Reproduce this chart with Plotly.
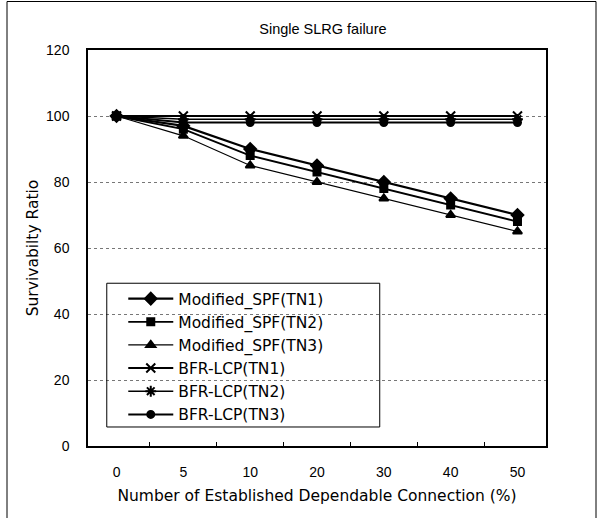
import plotly.graph_objects as go

# Percentage of established dependable connections (category axis)
connections = ["0", "5", "10", "20", "30", "40", "50"]

# Survivability ratio (%) per algorithm / topology
spf_tn1 = [100, 97, 90, 85, 80, 75, 70]
spf_tn2 = [100, 96, 88, 83, 78, 73, 68]
spf_tn3 = [100, 94, 85, 80, 75, 70, 65]
bfr_tn1 = [100, 100, 100, 100, 100, 100, 100]
bfr_tn2 = [100, 99, 99, 99, 99, 99, 99]
bfr_tn3 = [100, 98, 98, 98, 98, 98, 98]

y_ticks = [0, 20, 40, 60, 80, 100, 120]

series = [
    ("Modified_SPF(TN1)", spf_tn1, "diamond", 9, 2.2),
    ("Modified_SPF(TN2)", spf_tn2, "square", 7, 1.8),
    ("Modified_SPF(TN3)", spf_tn3, "triangle-up", 8, 1.2),
    ("BFR-LCP(TN1)", bfr_tn1, "x-thin-open", 9, 2.0),
    ("BFR-LCP(TN2)", bfr_tn2, "asterisk-open", 9, 1.6),
    ("BFR-LCP(TN3)", bfr_tn3, "circle", 7, 2.0),
]

fig = go.Figure()
for i, (name, vals, sym, size, lw) in enumerate(series):
    fig.add_trace(go.Scatter(
        x=connections, y=vals, name=name, mode="lines+markers",
        legendgroup=f"g{i}",
        line=dict(color="black", width=lw),
        marker=dict(symbol=sym, size=size, color="black",
                    line=dict(color="black", width=2)),
    ))

font = "Liberation Sans, Arial, sans-serif"
wide = "DejaVu Sans, Verdana, sans-serif"

fig.update_layout(
    width=598, height=518,
    margin=dict(l=88, r=52, t=50, b=72),
    paper_bgcolor="white", plot_bgcolor="white",
    font=dict(family=font, size=14, color="black"),
    title=dict(text="Single SLRG failure", x=0.54, xanchor="center",
               y=0.945, yanchor="middle", font=dict(size=14.5)),
    showlegend=True,
    legend=dict(x=0.077, y=0.414, xanchor="left", yanchor="top",
                bgcolor="rgba(0,0,0,0)", borderwidth=0,
                font=dict(family=wide, size=15.5), tracegroupgap=0, itemwidth=45),
    xaxis=dict(
        type="category", categoryorder="array", categoryarray=connections,
        tickson="boundaries", ticks="inside", ticklen=4, tickcolor="black",
        showline=True, linecolor="black", linewidth=1.5, mirror=True,
        showgrid=False, ticklabelstandoff=12,
        title=dict(text="Number of Established Dependable Connection (%)",
                   font=dict(family=wide, size=15.5), standoff=12),
    ),
    yaxis=dict(
        range=[0, 120], tickvals=y_ticks, ticks="",
        showline=True, linecolor="black", linewidth=1.5, mirror=True,
        showgrid=True, gridcolor="#777", griddash="dot", gridwidth=1,
        zeroline=False, ticklabelstandoff=14,
        title=dict(text="Survivabilty Ratio", font=dict(family=wide, size=15.5),
                   standoff=4),
    ),
)

# Legend frame
fig.add_shape(type="rect", xref="paper", yref="paper",
              x0=0.041, x1=0.637, y0=0.048, y1=0.411,
              line=dict(color="black", width=1), fillcolor="rgba(0,0,0,0)")

# Outer figure frame
fig.add_shape(type="rect", xref="paper", yref="paper",
              x0=(7 - 88) / 458, x1=(596 - 88) / 458,
              y0=(446 - 520) / 396, y1=(446 - 1.5) / 396,
              line=dict(color="black", width=1), fillcolor="rgba(0,0,0,0)")

fig.write_html("out.html")
